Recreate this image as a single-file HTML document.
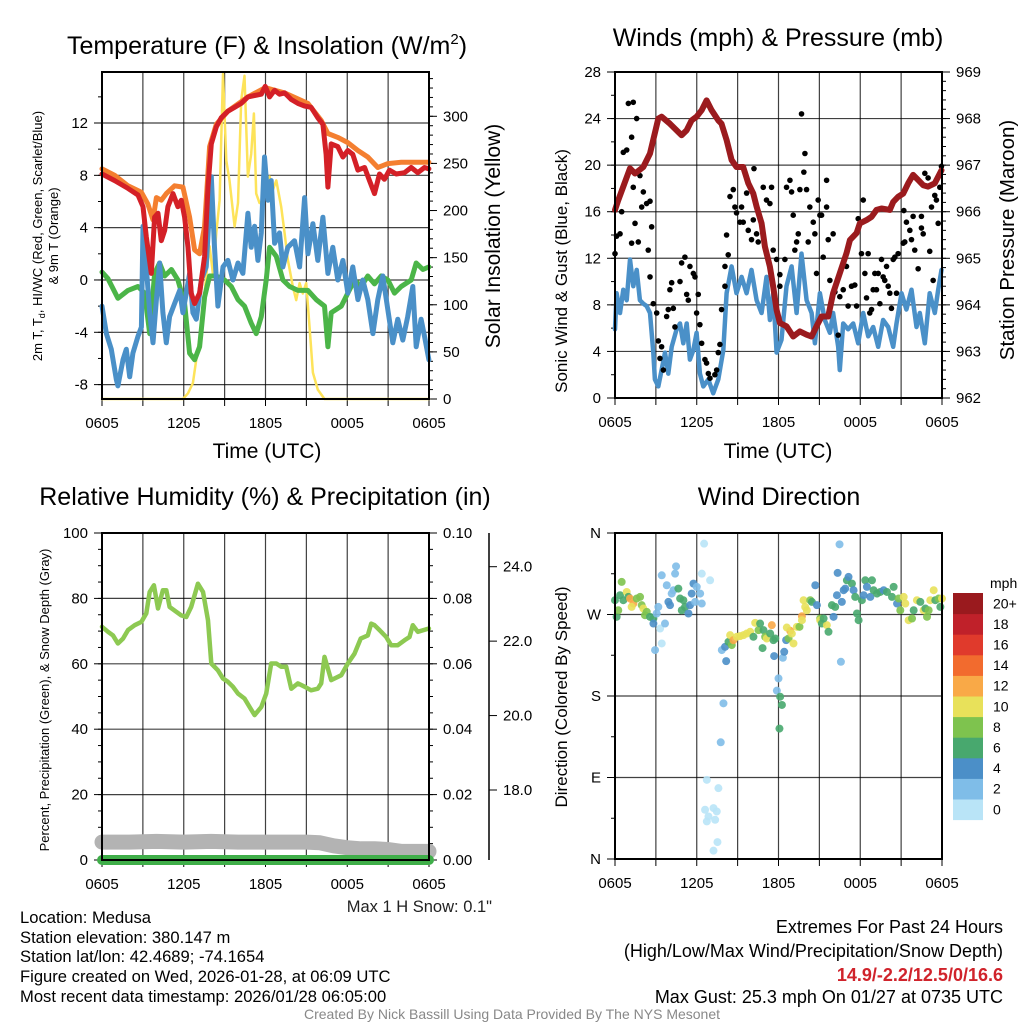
<!DOCTYPE html>
<html><head><meta charset="utf-8"><style>
html,body{margin:0;padding:0;background:#fff;}
svg{display:block;font-family:"Liberation Sans",Arial,sans-serif;}
</style></head><body>
<svg id="c" width="1024" height="1024" viewBox="0 0 1024 1024" xmlns="http://www.w3.org/2000/svg">
<g id="texts">
<text x="267" y="54" font-size="25" text-anchor="middle">Temperature (F) &amp; Insolation (W/m<tspan dy="-10" font-size="15">2</tspan><tspan dy="10">)</tspan></text>
<text x="778" y="46" font-size="25" text-anchor="middle">Winds (mph) &amp; Pressure (mb)</text>
<text x="265" y="505" font-size="25" text-anchor="middle">Relative Humidity (%) &amp; Precipitation (in)</text>
<text x="779" y="505" font-size="25" text-anchor="middle">Wind Direction</text>
<text x="267" y="458" font-size="21" text-anchor="middle">Time (UTC)</text>
<text x="778" y="458" font-size="21" text-anchor="middle">Time (UTC)</text>
<text transform="translate(42,236) rotate(-90)" font-size="13" text-anchor="middle">2m T, T<tspan dy="3" font-size="9">d</tspan><tspan dy="-3">, HI/WC (Red, Green, Scarlet/Blue)</tspan></text>
<text transform="translate(58,236) rotate(-90)" font-size="13" text-anchor="middle">&amp; 9m T (Orange)</text>
<text transform="translate(500,236) rotate(-90)" font-size="21" text-anchor="middle">Solar Insolation (Yellow)</text>
<text transform="translate(567,271) rotate(-90)" font-size="17" text-anchor="middle">Sonic Wind &amp; Gust (Blue, Black)</text>
<text transform="translate(1014,240) rotate(-90)" font-size="20.5" text-anchor="middle">Station Pressure (Maroon)</text>
<text transform="translate(49,700) rotate(-90)" font-size="13" text-anchor="middle">Percent, Precipitation (Green), &amp; Snow Depth (Gray)</text>
<text transform="translate(567,697) rotate(-90)" font-size="17" text-anchor="middle">Direction (Colored By Speed)</text>
<text x="492" y="912" font-size="16.5" text-anchor="end" fill="#222">Max 1 H Snow: 0.1"</text>
<g font-size="16.6">
<text x="20" y="923">Location: Medusa</text>
<text x="20" y="943">Station elevation: 380.147 m</text>
<text x="20" y="962">Station lat/lon: 42.4689; -74.1654</text>
<text x="20" y="982">Figure created on Wed, 2026-01-28, at 06:09 UTC</text>
<text x="20" y="1002">Most recent data timestamp: 2026/01/28 06:05:00</text>
</g>
<g font-size="18" text-anchor="end">
<text x="1003" y="933">Extremes For Past 24 Hours</text>
<text x="1003" y="957">(High/Low/Max Wind/Precipitation/Snow Depth)</text>
<text x="1003" y="981" fill="#d0232b" font-weight="bold">14.9/-2.2/12.5/0/16.6</text>
<text x="1003" y="1003">Max Gust: 25.3 mph On 01/27 at 0735 UTC</text>
</g>
<text x="512" y="1019" font-size="14" fill="#888" text-anchor="middle">Created By Nick Bassill Using Data Provided By The NYS Mesonet</text>
</g>
</svg>
<script>
// ---- Panel 1 data (hours since 0605 UTC) ----
const redT=[0,0.93,1.91,2.64,3.01,3.25,3.62,3.86,4.11,4.35,4.6,4.84,5.21,5.57,5.82,6.06,6.31,6.55,6.8,7.16,7.53,7.78,8.02,8.39,8.75,9.24,9.73,10.22,10.71,11.2,11.69,11.98,12.3,12.67,13.03,13.4,13.89,14.38,14.87,15.35,15.84,16.21,16.45,16.58,16.82,17.31,17.68,18.04,18.41,18.78,19.27,19.63,20,20.37,20.73,21.1,21.59,22.2,22.69,23.18,23.67,23.99];
const redV=[8.1,7.6,7.0,6.5,5.6,3.3,0.5,4.8,5.1,3.0,3.8,5.6,6.6,5.6,6.1,4.8,2.5,-1.0,-1.8,-1.0,1.8,7.1,10.4,11.7,12.4,12.9,13.2,13.5,14.0,14.1,14.2,14.8,14.0,14.5,14.2,14.3,13.8,13.5,13.3,13.2,12.4,11.9,9.6,7.1,10.4,10.2,9.4,9.9,9.6,8.4,8.6,7.6,6.6,8.1,7.7,8.4,8.1,8.2,8.6,8.2,8.6,8.5];
const orgT=[0,0.93,1.91,2.89,3.37,3.74,3.99,4.35,4.72,5.33,5.94,6.43,6.8,7.16,7.53,7.9,8.39,9.24,10.71,11.98,13.4,15.11,16.09,16.58,17.31,18.04,18.78,19.51,20.24,20.98,21.96,22.93,23.99];
const orgV=[8.5,8.0,7.2,6.7,5.8,4.6,6.3,6.1,6.6,7.2,7.1,4.8,2.3,2.0,4.1,10.2,11.9,12.9,14.0,14.7,14.3,13.5,12.2,11.2,10.9,10.5,9.9,9.4,8.6,8.9,9.0,9.0,9.0];
const grnT=[0,0.44,1.17,1.91,2.64,3.13,3.5,3.86,4.23,4.6,5.09,5.57,6.06,6.43,6.8,7.16,7.53,7.9,8.39,9,9.49,9.98,10.46,10.95,11.32,11.69,12.05,12.3,12.79,13.28,13.77,14.38,15.11,15.72,16.33,16.58,16.82,17.56,18.04,18.53,19.02,19.51,20,20.49,20.98,21.47,21.96,22.69,23.06,23.55,23.99];
const grnV=[0.6,0.1,-1.4,-0.8,-0.5,-1.0,-4.1,0.5,1.3,0.3,0.8,0.0,-1.8,-5.6,-6.1,-5.1,-1.3,0.3,0.3,0.0,-0.5,-1.5,-2.0,-3.3,-4.1,-2.8,0.0,2.5,1.8,0.0,-0.5,-0.8,-0.8,-1.5,-2.0,-5.1,-2.5,-2.0,-1.0,0.0,-0.5,0.3,-0.3,0.3,0.0,-1.0,-0.5,0.0,1.3,0.8,1.0];
const bluT=[0,0.32,0.68,1.05,1.17,1.54,1.78,2.03,2.27,2.64,2.89,3.01,3.25,3.5,3.74,3.99,4.23,4.47,4.72,4.96,5.33,5.7,5.94,6.19,6.43,6.67,6.92,7.29,7.65,8.02,8.26,8.51,8.88,9.24,9.61,9.98,10.34,10.71,10.95,11.2,11.44,11.69,11.93,12.18,12.42,12.67,13.03,13.28,13.64,14.13,14.5,14.87,15.11,15.48,15.84,16.21,16.58,16.94,17.31,17.68,18.04,18.41,18.78,19.14,19.51,19.88,20.24,20.61,20.98,21.34,21.71,22.08,22.44,22.81,23.06,23.42,23.67,23.99];
const bluV=[-2.0,-4.1,-5.3,-7.6,-8.1,-6.1,-5.3,-7.4,-5.6,-4.3,-3.6,4.1,1.0,-2.5,-4.8,-1.5,1.3,-2.5,-4.8,-2.8,-1.8,-0.8,-2.5,-1.0,0.5,-2.5,-3.0,0.0,1.0,7.9,2.5,-2.0,1.0,1.5,0.0,1.3,0.5,5.1,2.5,4.1,1.5,3.6,9.4,6.1,7.6,2.8,3.6,1.0,2.5,3.0,1.0,6.3,2.0,4.3,1.5,4.8,0.5,2.5,0.0,1.5,-1.0,1.0,-1.5,0.0,-1.5,-4.1,-1.5,0.3,-2.3,-4.8,-3.0,-4.6,-2.8,-0.5,-5.1,-3.0,-4.3,-6.1];
const solT=[0,5.94,6.31,6.67,6.92,7.29,7.65,7.9,8.14,8.39,8.63,8.88,9.12,9.36,9.73,9.98,10.22,10.46,10.71,10.95,11.15,11.32,11.56,11.81,12.05,12.3,12.54,12.79,13.15,13.4,13.64,14.01,14.25,14.5,14.74,14.99,15.23,15.48,15.84,16.33,23.99];
const solV=[0,0,6,17,42,77,130,162,133,176,211,345,253,232,183,208,317,343,236,260,303,218,208,211,232,236,222,232,204,176,148,119,105,123,112,123,77,28,10,0,0];
// ---- Panel 2 data ----
const windT=[0,0.12,0.37,0.61,0.86,1.1,1.34,1.59,1.83,2.08,2.32,2.57,2.81,2.93,3.18,3.42,3.67,3.91,4.16,4.52,4.77,5.01,5.26,5.5,5.75,5.99,6.23,6.48,6.85,7.21,7.58,7.95,8.19,8.56,8.92,9.29,9.66,10.02,10.39,10.76,11.12,11.37,11.61,11.86,12.22,12.59,12.96,13.33,13.69,14.06,14.43,14.67,15.04,15.4,15.77,16.01,16.38,16.5,16.75,17.11,17.48,17.85,18.22,18.58,18.95,19.32,19.68,20.05,20.42,20.66,21.03,21.39,21.76,22.13,22.37,22.74,23.1,23.47,23.72,23.96];
const windV=[5.9,9,7.3,9.3,8.4,11.9,9.6,11,8.4,8.1,7.9,7.3,3.9,1.6,1,2.4,3.9,2.1,4.4,5.9,6.4,4.7,6.4,3.3,4.1,5.6,2.1,1,1.6,0.4,1.6,4.1,9,11.3,9,10.4,9,11,8.4,7.3,10.4,6.7,9,3.9,5,9.6,11.3,7.3,12.4,8.4,7.3,4.7,9,6.7,5.6,7.3,4.4,2.4,6.4,5.9,6.4,4.7,7.3,5.3,6.1,4.4,6.7,6.1,4.4,6.4,9,7.6,9.3,6.1,7.3,4.7,9,7.3,9.3,11];
const gustT=[0,0.12,0.37,0.49,0.61,0.86,0.98,1.34,1.22,1.59,1.34,1.83,1.96,2.08,1.47,1.71,1.22,2.32,2.57,2.44,2.69,2.57,2.81,3.06,3.18,3.42,3.3,3.55,3.79,3.91,4.03,4.16,4.28,4.4,4.77,4.89,5.13,5.26,5.38,5.5,5.75,5.87,5.99,6.11,6.23,6.36,6.6,6.72,6.85,6.97,7.33,7.46,7.58,7.7,7.82,8.07,8.07,8.19,8.31,8.44,8.68,8.8,8.92,9.17,9.41,9.29,9.66,9.78,10.02,10.15,10.2,10.39,10.51,10.88,11.12,11.37,11.49,11.61,11.86,12.1,12.1,12.47,12.59,12.84,12.96,13.08,13.2,13.33,13.45,13.57,13.69,13.94,13.86,14.06,14.18,14.3,14.55,14.67,14.79,15.04,14.91,15.16,15.28,15.53,15.53,15.65,15.77,16.01,16.14,16.38,16.5,16.75,16.99,17.11,17.36,17.6,17.73,17.85,18.09,18.22,18.34,18.46,18.58,18.7,18.83,18.95,19.07,19.19,19.32,19.44,19.56,19.68,19.8,19.93,20.05,20.17,20.29,20.42,20.54,20.66,20.78,21.15,21.27,21.2,21.39,21.64,21.76,21.88,22.0,22.25,22.49,22.49,22.62,22.74,22.98,23.1,23.23,23.35,23.47,23.59,23.72,23.84,23.96];
const gustV=[12.4,13.9,14.1,16,21.1,21.3,25.3,25.4,22.4,24,18.1,19.1,16.4,17.7,15,13.4,13.3,16.7,16.9,12.7,14.7,10.4,8.1,7.3,4.9,4.4,3.4,2.4,7,7.6,9.3,9.9,7.7,6.1,10,11.6,12.1,8.9,8.4,11.3,10.7,10.4,7.3,8.9,6.3,4.7,3.3,3,2.1,1.7,2,2.4,3.9,4.6,7.6,9.6,11.3,14,12.3,17.3,17.9,16.4,15.9,15.1,15.1,16.4,17.6,14.4,13.6,15.3,19.7,14.1,13.4,18.1,17,16.7,18.1,12.7,11.9,10.6,9.6,11.9,18.1,18.7,17.7,15.7,12.7,13.4,14.1,17.9,24.4,21,19.4,17.9,13.4,16.4,15.1,14.1,10.7,15.7,17,15.7,12.1,18.7,16.4,13.6,10.1,14.1,9.1,5.4,8.7,9.3,11.3,7.9,9.6,9.7,7.9,15.4,12.4,17,10.7,8.6,12.4,7.3,7.6,9.3,10.7,9.3,10.7,8.1,11.9,10.4,10.1,11.3,9.6,9,7.7,11.9,12.1,9,12.4,13.3,13.4,16.1,15.1,14.4,13.6,15.6,12.7,11.1,15.6,14.6,14.1,19.3,18.9,12.6,16.4,10.1,17.4,17,15,18.1,19.9];
const presT=[0,0.24,0.61,1.1,1.47,2.08,2.57,3.18,3.42,4.03,4.65,4.89,5.26,5.62,5.99,6.36,6.72,7.09,7.58,7.82,8.19,8.56,8.92,9.41,9.78,10.15,10.39,10.76,11,11.37,11.61,11.86,12.1,12.59,13.08,13.57,14.06,14.43,14.79,15.16,15.65,16.01,16.5,16.99,17.24,17.73,17.97,18.46,18.83,19.19,19.56,20.17,20.42,20.78,21.15,21.52,21.88,22.25,22.62,22.98,23.47,23.96];
const presV=[966.04,966.25,966.54,966.93,966.82,966.96,967.25,968,968.04,967.89,967.71,967.64,967.75,967.96,968.04,968.18,968.39,968.18,967.96,967.89,967.54,967.11,966.96,966.96,966.61,966.39,966.11,965.75,965.25,964.82,964.39,963.89,963.61,963.54,963.32,963.43,963.36,963.32,963.54,963.75,963.75,964.25,964.68,965.11,965.39,965.54,965.75,965.82,965.89,966.04,966.07,966.04,966.21,966.32,966.39,966.61,966.79,966.68,966.57,966.54,966.61,966.89];
// ---- Panel 3 data ----
const rhT=[0,0.44,0.81,1.17,1.54,1.91,2.4,2.89,3.25,3.5,3.81,4.11,4.47,4.72,4.96,5.45,5.82,6.19,6.55,7.04,7.41,7.78,8.02,8.51,8.88,9.24,9.61,9.98,10.46,10.83,11.2,11.69,12.05,12.42,12.79,13.15,13.52,13.89,14.38,14.87,15.35,15.84,16.09,16.33,16.82,17.56,18.04,18.53,18.99,19.51,19.76,20,20.49,20.86,21.22,21.71,22.2,22.57,22.81,23.18,23.99];
const rhV=[71.3,69.8,68.7,66.2,67.7,70.3,71.8,72.8,75.4,82,84,76.9,82.5,82.5,77.4,75.9,74.8,74.3,77.4,84.5,82,73.3,60.1,58,55.5,54.5,53,50.9,49.4,46.8,44.3,46.8,50.9,60.1,60.1,59.1,59.1,52.4,54,53,51.9,52.4,54,62.1,55,56.5,60.1,63.1,67.7,68.7,72.3,71.8,69.8,68.2,65.7,65.7,67.2,68.2,71.8,69.8,70.8];
const snowT=[0,2,4,6,8,10,12,14,15,16,17,18,19,20,21,22,23,24];
const snowV=[16.6,16.6,16.62,16.6,16.62,16.6,16.6,16.6,16.6,16.58,16.5,16.45,16.42,16.42,16.4,16.35,16.35,16.35];
const precipT=[0,24];
const precipV=[0,0];
// ---- Panel 4 data ----
const dirT=[0,0.12,0.24,0.37,0.49,0.61,0.86,0.98,1.1,1.35,1.22,1.59,1.84,1.96,2.08,2.33,2.2,2.57,2.82,2.82,2.94,3.06,3.18,3.31,3.43,3.43,3.67,3.8,3.92,4.04,4.16,4.29,4.41,4.48,4.65,4.78,4.9,5.02,5.14,5.39,5.51,5.63,5.76,5.88,6,6.25,6.37,6.37,6.54,6.98,6.74,6.74,6.61,6.86,7.23,7.35,7.47,7.59,7.52,7.23,7.76,7.96,8.16,7.84,8.08,8.33,8.45,8.57,8.69,8.94,9.18,9.43,9.67,9.92,10.16,10.29,10.53,10.65,10.83,10.9,11.02,11.14,11.39,11.51,11.63,11.76,11.68,12,11.88,12.12,12.25,12.07,12.32,12.42,12.56,12.74,12.86,12.98,13.1,12.61,13.35,13.54,13.72,13.72,13.84,14.08,13.96,14.33,14.45,14.7,14.82,15.06,15.06,15.18,15.55,15.67,15.31,15.92,16.04,16.16,16.29,16.34,16.48,16.58,16.65,16.78,16.9,17.02,17.14,17.39,17.51,17.63,17.76,17.88,18.12,18.25,18.37,18.49,18.74,18.86,18.98,19.23,19.47,19.72,19.96,20.33,20.45,20.7,20.82,20.94,21.19,21.31,21.55,21.8,21.92,22.16,22.41,22.65,22.78,23.02,23.14,23.39,23.51,23.76,23.88,22.9,24];
const dirV=[285.8,267.4,274.7,291.3,306,285.8,294.9,289.4,287.6,282.1,278.4,287.6,289.4,280.3,276.6,272.9,269.2,267.4,265.6,260,230.7,271.1,278.4,254.5,313.3,238,260,302.3,283.9,280.3,293.1,296.8,315.1,323.2,298.6,287.6,274.7,285.8,278.4,271.1,280.3,293.1,304.1,283.9,300.5,293.1,282.1,315.1,348.2,307.8,41.5,87.4,54.4,47,56.2,43.3,52.5,78.2,18.7,9.2,128.9,171.9,218.5,230.7,234.3,239.8,247.2,236.2,241.7,245.4,246.1,247.2,249,250.9,245.4,260.8,252.7,260,232.9,252.7,245.4,243.5,249,258.2,241.7,243.5,224.1,199.4,185.9,179.2,170.1,144,222.2,228.8,241.7,243.5,252,249,238,255.6,256.4,256.4,268.1,263.7,285.8,274.7,278.4,285.8,283.9,302.3,280.3,265.6,263.7,260,258.2,250.9,265.6,280.3,267.4,278.4,291.3,315.9,347.5,217.8,283.9,296.8,298.6,307.8,311.5,304.1,296.8,289.4,271.1,263.7,285.8,291.3,307.8,300.5,289.4,307.8,296.8,293.1,294.9,296.8,294.9,289.4,300.5,282.1,287.6,274.7,289.4,282.1,263.7,265.6,274.7,285.8,283.9,274.7,276.6,274.7,285.8,296.8,285.8,287.6,278.4,267.4,287.6];
const dirS=[7,7,9,7,9,7,11,7,13,13,11,9,9,9,11,9,9,7,7,5,3,3,3,1,3,1,3,3,5,5,3,3,3,3,7,7,7,7,7,5,5,5,5,3,3,3,3,1,1,1,1,1,1,1,1,1,1,1,1,1,3,3,5,3,5,7,11,9,13,11,11,11,11,11,7,11,9,7,7,7,9,11,7,13,7,7,5,3,3,7,7,7,3,5,5,9,13,11,11,11,11,9,13,11,11,11,11,9,7,5,5,9,11,7,11,7,7,7,5,7,5,5,3,3,5,5,5,7,5,7,5,7,7,7,7,5,7,5,5,7,7,7,7,5,7,7,7,5,9,9,11,11,11,9,7,11,7,11,7,9,11,11,7,9,7,9,11,7,9,11,7,9];
const colorBins=["#b9e4f7","#7fbde8","#4b8fc8","#48a86e","#7ec34e","#e8e15a","#f9a947","#f26b2e","#e03a2c","#c0212a","#9a1a1e"];
const binLabels=["0","2","4","6","8","10","12","14","16","18","20+"];
const timeLabels=["0605","1205","1805","0005","0605"];
const timeLabelHours=[0,6,12,18,24];

const NS="http://www.w3.org/2000/svg";
const svg=document.getElementById('c');
function mk(tag,attrs,parent){const e=document.createElementNS(NS,tag);for(const k in attrs)e.setAttribute(k,attrs[k]);(parent||svg).appendChild(e);return e;}
function lin(d0,d1,r0,r1){return v=>r0+(v-d0)/(d1-d0)*(r1-r0);}

function frame(p,name){
  const g=mk('g',{});
  
  
  for(let h=0;h<=24;h+=3){
    const x=p.x(h);
    const gl=mk('line',{x1:x,x2:x,y1:p.y0,y2:p.y1,stroke:'#000','stroke-width':1.2,'stroke-opacity':0.75},g);
    
    
    mk('line',{x1:x,x2:x,y1:p.y1,y2:p.y1+7,stroke:'#000','stroke-width':1},g);
  }
  timeLabelHours.forEach((h,i)=>{
    const x=p.x(h);
    const t=mk('text',{x:x,y:p.y1+29,'font-size':15,'text-anchor':'middle'},g);
    t.textContent=timeLabels[i];
    
    
  });
  return g;
}
function leftTicks(p,g,vals,minor,fmt,side){
  const xA= side==='r'? p.x1 : p.x0;
  const dir= side==='r'?1:-1;
  vals.forEach(v=>{const y=p.yl(v);
    if(side!=='r'){const gl=mk('line',{x1:p.x0,x2:p.x1,y1:y,y2:y,stroke:'#000','stroke-width':1.2,'stroke-opacity':0.75},g);
      
      }
    mk('line',{x1:xA,x2:xA+dir*8,y1:y,y2:y,stroke:'#000'},g);
    const t=mk('text',{x:xA+dir*14,y:y+5,'font-size':15,'text-anchor':side==='r'?'start':'end'},g);
    t.textContent=fmt(v);
    
    
  });
  minor.forEach(v=>{const y=p.yl(v);mk('line',{x1:xA,x2:xA+dir*4,y1:y,y2:y,stroke:'#000'},g);});
}
function box(p,g){mk('rect',{x:p.x0,y:p.y0,width:p.x1-p.x0,height:p.y1-p.y0,fill:'none',stroke:'#000','stroke-width':2},g);}
function path(xs,ys,xf,yf,attrs,name){
  let d='';for(let i=0;i<xs.length;i++)d+=(i?'L':'M')+xf(xs[i]).toFixed(1)+','+yf(ys[i]).toFixed(1);
  const e=mk('path',Object.assign({d:d,fill:'none','stroke-linejoin':'round','stroke-linecap':'round'},attrs));
  
  
  return e;
}
function range(a,b,s){const r=[];for(let v=a;v<=b+1e-9;v+=s)r.push(+v.toFixed(4));return r;}

// Panel 1
const p1={x0:102,x1:429,y0:72,y1:399};p1.x=lin(0,24,p1.x0,p1.x1);p1.yl=lin(-9.1,15.9,p1.y1,p1.y0);
const p1r=lin(0,347,p1.y1,p1.y0);
let g1=frame(p1,'temperature');
leftTicks(p1,g1,[-8,-4,0,4,8,12],range(-8,14,2),v=>String(v),'l');
leftTicks({x0:p1.x0,x1:p1.x1,yl:p1r},g1,[0,50,100,150,200,250,300],range(0,340,10),v=>String(v),'r');
path(solT,solV,p1.x,p1r,{stroke:'#fde35a','stroke-width':2.5},'solar-insolation-line');
path(grnT,grnV,p1.x,p1.yl,{stroke:'#4bb548','stroke-width':5},'dewpoint-line');
path(bluT,bluV,p1.x,p1.yl,{stroke:'#4a90c8','stroke-width':5},'wind-chill-line');
path(orgT,orgV,p1.x,p1.yl,{stroke:'#f47f30','stroke-width':5},'temp-9m-line');
path(redT,redV,p1.x,p1.yl,{stroke:'#d42027','stroke-width':5},'temp-2m-line');
box(p1,svg);

// Panel 2
const p2={x0:615,x1:942,y0:72,y1:398};p2.x=lin(0,24,p2.x0,p2.x1);p2.yl=lin(0,28,p2.y1,p2.y0);
const p2r=lin(962,969,p2.y1,p2.y0);
let g2=frame(p2,'winds');
leftTicks(p2,g2,range(0,28,4),range(0,28,2),v=>String(v),'l');
leftTicks({x0:p2.x0,x1:p2.x1,yl:p2r},g2,range(962,969,1),range(962,969,0.2),v=>String(v),'r');
path(windT,windV,p2.x,p2.yl,{stroke:'#4a90c8','stroke-width':4.5},'sonic-wind-line');
gustT.forEach((t,i)=>{const c=mk('circle',{cx:p2.x(t),cy:p2.yl(gustV[i]),r:2.8,fill:'#000'});
  
  });
path(presT,presV,p2.x,p2r,{stroke:'#9b1b1e','stroke-width':6},'pressure-line');
box(p2,svg);

// Panel 3
const p3={x0:102,x1:429,y0:533,y1:860};p3.x=lin(0,24,p3.x0,p3.x1);p3.yl=lin(0,100,p3.y1,p3.y0);
const p3r=lin(0,0.1,p3.y1,p3.y0);const p3s=lin(18,24,790,566.7);
let g3=frame(p3,'humidity');
leftTicks(p3,g3,range(0,100,20),range(0,100,5),v=>String(v),'l');
leftTicks({x0:p3.x0,x1:p3.x1,yl:p3r},g3,range(0,0.1,0.02),range(0,0.1,0.005),v=>v.toFixed(2),'r');
const sa=mk('line',{x1:489,x2:489,y1:533,y2:860,stroke:'#000','stroke-width':1.5});


[18,20,22,24].forEach(v=>{const y=p3s(v);mk('line',{x1:489,x2:497,y1:y,y2:y,stroke:'#000'});
  const t=mk('text',{x:503,y:y+5,'font-size':15},svg);t.textContent=v.toFixed(1);
  
  });
path(snowT,snowV,p3.x,p3s,{stroke:'#b3b3b3','stroke-width':15},'snow-depth-line');
path(precipT,precipV,p3.x,p3r,{stroke:'#3fae49','stroke-width':10},'precipitation-line');
path(rhT,rhV,p3.x,p3.yl,{stroke:'#8dc952','stroke-width':4.5},'humidity-line');
box(p3,svg);

// Panel 4
const p4={x0:615,x1:942,y0:533,y1:859};p4.x=lin(0,24,p4.x0,p4.x1);p4.yl=lin(0,360,p4.y1,p4.y0);
let g4=frame(p4,'direction');
leftTicks(p4,g4,[0,90,180,270,360],range(0,360,45),v=>['N','E','S','W','N'][v/90],'l');
const nDir=Math.min(dirT.length,dirV.length);
for(let i=0;i<nDir;i++){
  const sp=(dirS[i]===undefined)?7:dirS[i];
  const bin=Math.min(10,Math.floor(sp/2));
  const c=mk('circle',{cx:p4.x(dirT[i]),cy:p4.yl(dirV[i]),r:4,fill:colorBins[bin],'fill-opacity':0.9});
  
  
}
box(p4,svg);
// colorbar
const cb=mk('g',{});


const cbTop=593,cbH=20.6;
binLabels.forEach((lab,i)=>{const y=cbTop+(10-i)*cbH;
  const r=mk('rect',{x:953,y:y,width:30,height:cbH+0.5,fill:colorBins[i]},cb);
  
  
  const t=mk('text',{x:993,y:y+cbH/2+5,'font-size':14},cb);t.textContent=lab;
  
  });
const mph=mk('text',{x:990,y:588,'font-size':14},cb);mph.textContent='mph';


</script>
</body></html>
